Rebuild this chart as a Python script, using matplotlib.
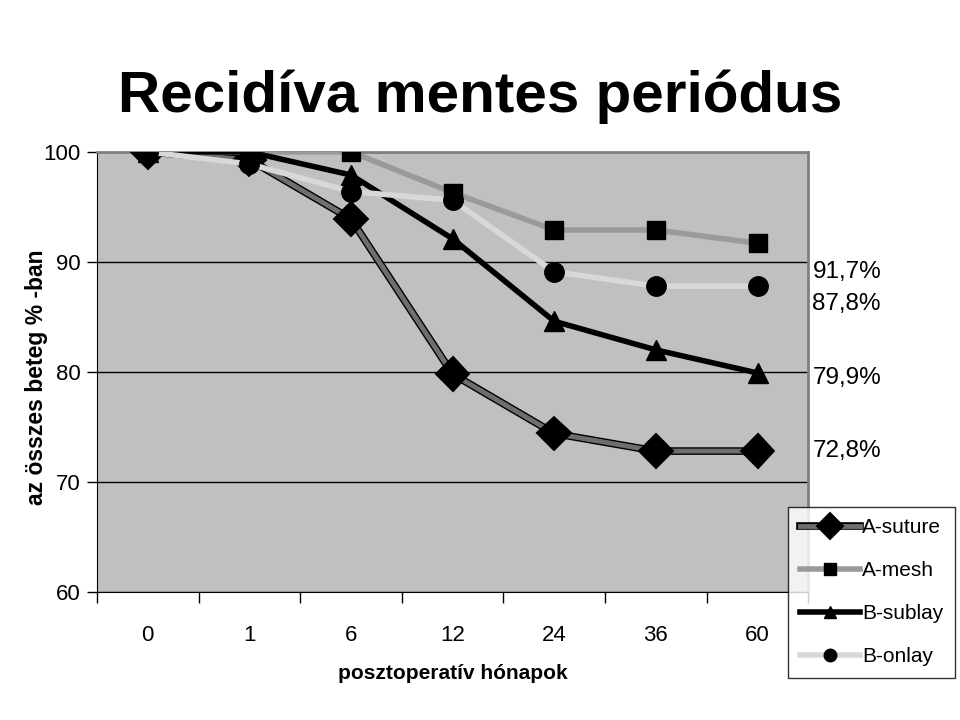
import matplotlib
matplotlib.use("Agg")
import matplotlib.pyplot as plt
import matplotlib.patheffects as pe

months = ["0", "1", "6", "12", "24", "36", "60"]
a_suture = [100, 99.3, 93.9, 79.8, 74.4, 72.8, 72.8]
a_mesh = [100, 100, 100, 96.3, 92.9, 92.9, 91.7]
b_sublay = [100, 100, 97.9, 92.1, 84.6, 82.0, 79.9]
b_onlay = [100, 98.9, 96.4, 95.6, 89.1, 87.8, 87.8]
end_labels = ["91,7%", "87,8%", "79,9%", "72,8%"]
label_y = [89.1, 86.2, 79.4, 72.8]

plt.rcParams['font.family'] = ['Liberation Sans', 'DejaVu Sans']

fig = plt.figure(figsize=(9.6, 7.2), dpi=100)
ax = fig.add_axes([0.101, 0.178, 0.741, 0.611])
ax.set_facecolor("#c0c0c0")

x = list(range(len(months)))

ax.plot(x, a_suture, color="#6e6e6e", lw=3.5, marker="D", ms=13, mfc="black", mec="black",
        label="A-suture", zorder=3,
        path_effects=[pe.Stroke(linewidth=5.5, foreground="black"), pe.Normal()])
ax.plot(x, a_mesh, color="#9a9a9a", lw=4, marker="s", ms=13, mfc="black", mec="black",
        label="A-mesh", zorder=3)
ax.plot(x, b_sublay, color="black", lw=4, marker="^", ms=15, mfc="black", mec="black",
        label="B-sublay", zorder=3)
ax.plot(x, b_onlay, color="#d8d8d8", lw=4, marker="o", ms=14, mfc="black", mec="black",
        label="B-onlay", zorder=3)

ax.set_xlim(-0.5, 6.5)
ax.set_ylim(60, 100)
ax.yaxis.grid(True, color="black", lw=1)
ax.set_axisbelow(True)
ax.set_xticks(x)
ax.set_xticklabels(months, fontsize=16)
ax.set_yticks([60, 70, 80, 90, 100])
ax.set_yticklabels(["60", "70", "80", "90", "100"], fontsize=16)
ax.set_xticks([i + 0.5 for i in range(-1, 7)], minor=True)
ax.tick_params(axis="x", which="major", length=0, pad=24)
ax.tick_params(axis="x", which="minor", length=8, width=1, direction="out")
ax.tick_params(axis="y", length=7, width=1, direction="out", pad=5)

for s in ["left", "bottom"]:
    ax.spines[s].set_color("black")
for s in ["top", "right"]:
    ax.spines[s].set_color("#808080")
    ax.spines[s].set_linewidth(2)

ax.set_xlabel("posztoperatív hónapok", fontsize=15, fontweight="bold", labelpad=13)
fig.text(37 / 960, 0.476, "az összes beteg % -ban", rotation=90, ha="center", va="center",
         fontsize=16.5, fontweight="bold")

# end labels just right of the plot area
for lab, yy in zip(end_labels, label_y):
    ax.text(6.54, yy, lab, fontsize=17.5, va="center", ha="left", clip_on=False)

fig.text(0.5, 0.866, "Recidíva mentes periódus", ha="center", va="center",
         fontsize=42, fontweight="bold")

leg = ax.legend(loc="upper left", bbox_to_anchor=(0.972, 0.193), frameon=True, fancybox=False,
                edgecolor="black", fontsize=15, handlelength=2.9, handletextpad=0.1,
                labelspacing=1.15, borderpad=0.55, borderaxespad=0)
leg.get_frame().set_linewidth(1)
for h in leg.legend_handles:
    h.set_markersize(9)

fig.savefig("out.png", dpi=100)
